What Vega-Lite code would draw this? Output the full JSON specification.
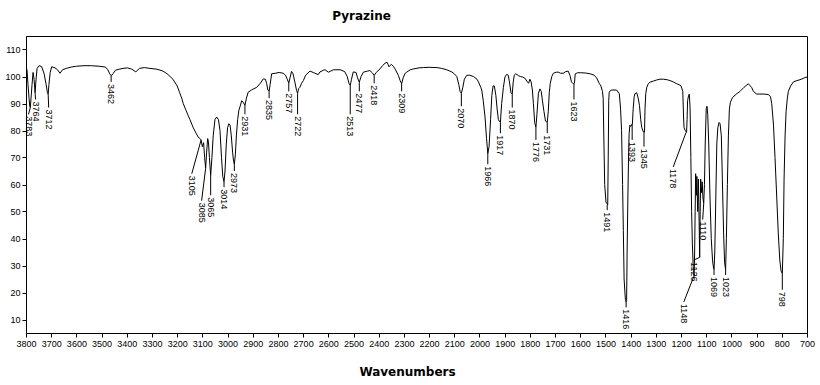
{
  "$schema": "https://vega.github.io/schema/vega-lite/v6.json",
  "width": 781,
  "height": 297,
  "autosize": {"type": "none"},
  "padding": {"left": 26, "top": 36, "right": 13, "bottom": 52},
  "background": "white",
  "config": {
    "view": {"stroke": "black", "strokeWidth": 1},
    "font": "Liberation Sans"
  },
  "title": {
    "text": "Pyrazine",
    "font": "DejaVu Sans",
    "fontSize": 12,
    "fontWeight": "bold",
    "color": "black",
    "anchor": "middle",
    "baseline": "alphabetic",
    "offset": 4,
    "dx": -55
  },
  "datasets": {
    "spectrum": [
      {"wn": 3800, "t": 103}, {"wn": 3796, "t": 102.5}, {"wn": 3792, "t": 97}, {"wn": 3788, "t": 92}, {"wn": 3785, "t": 89},
      {"wn": 3783, "t": 88.5}, {"wn": 3780, "t": 92}, {"wn": 3776, "t": 97}, {"wn": 3772, "t": 101.5}, {"wn": 3768, "t": 99},
      {"wn": 3764, "t": 94}, {"wn": 3760, "t": 99}, {"wn": 3756, "t": 103}, {"wn": 3748, "t": 104}, {"wn": 3738, "t": 103.7},
      {"wn": 3728, "t": 101}, {"wn": 3720, "t": 97}, {"wn": 3715, "t": 94}, {"wn": 3712, "t": 93.5}, {"wn": 3709, "t": 97},
      {"wn": 3704, "t": 101.5}, {"wn": 3698, "t": 103.6}, {"wn": 3685, "t": 103.2}, {"wn": 3675, "t": 102.5}, {"wn": 3665, "t": 101.2},
      {"wn": 3655, "t": 102.5}, {"wn": 3640, "t": 103}, {"wn": 3620, "t": 103.5}, {"wn": 3600, "t": 103.8}, {"wn": 3570, "t": 104},
      {"wn": 3540, "t": 104}, {"wn": 3510, "t": 103.8}, {"wn": 3485, "t": 103.5}, {"wn": 3475, "t": 102.5}, {"wn": 3468, "t": 101},
      {"wn": 3462, "t": 100.3}, {"wn": 3455, "t": 101}, {"wn": 3445, "t": 102.3}, {"wn": 3430, "t": 102.7}, {"wn": 3415, "t": 103},
      {"wn": 3397, "t": 103.2}, {"wn": 3380, "t": 102.7}, {"wn": 3364, "t": 101.7}, {"wn": 3350, "t": 103}, {"wn": 3330, "t": 103.3},
      {"wn": 3308, "t": 103}, {"wn": 3280, "t": 102.7}, {"wn": 3256, "t": 102}, {"wn": 3240, "t": 101}, {"wn": 3228, "t": 100},
      {"wn": 3217, "t": 99}, {"wn": 3200, "t": 96.5}, {"wn": 3190, "t": 94}, {"wn": 3182, "t": 92}, {"wn": 3176, "t": 90},
      {"wn": 3165, "t": 87.5}, {"wn": 3156, "t": 85.5}, {"wn": 3149, "t": 84}, {"wn": 3136, "t": 81}, {"wn": 3125, "t": 79},
      {"wn": 3116, "t": 77.5}, {"wn": 3109, "t": 77}, {"wn": 3105, "t": 76.5}, {"wn": 3100, "t": 74}, {"wn": 3095, "t": 75.5},
      {"wn": 3091, "t": 70}, {"wn": 3087, "t": 66}, {"wn": 3083, "t": 72}, {"wn": 3079, "t": 77}, {"wn": 3076, "t": 76},
      {"wn": 3072, "t": 70}, {"wn": 3067, "t": 63.3}, {"wn": 3062, "t": 70}, {"wn": 3057, "t": 78}, {"wn": 3050, "t": 84},
      {"wn": 3043, "t": 85}, {"wn": 3036, "t": 84}, {"wn": 3030, "t": 80}, {"wn": 3024, "t": 70}, {"wn": 3019, "t": 63},
      {"wn": 3014, "t": 61}, {"wn": 3010, "t": 65}, {"wn": 3005, "t": 75}, {"wn": 3000, "t": 81}, {"wn": 2995, "t": 82.5},
      {"wn": 2990, "t": 82}, {"wn": 2985, "t": 78}, {"wn": 2980, "t": 72}, {"wn": 2976, "t": 68.5}, {"wn": 2973, "t": 67.5},
      {"wn": 2969, "t": 71}, {"wn": 2965, "t": 78}, {"wn": 2960, "t": 84}, {"wn": 2955, "t": 87.5}, {"wn": 2950, "t": 89},
      {"wn": 2944, "t": 91}, {"wn": 2938, "t": 90.5}, {"wn": 2931, "t": 89.3}, {"wn": 2925, "t": 92}, {"wn": 2918, "t": 94.2},
      {"wn": 2905, "t": 95}, {"wn": 2895, "t": 95.5}, {"wn": 2884, "t": 96}, {"wn": 2870, "t": 97.5}, {"wn": 2858, "t": 99.1},
      {"wn": 2850, "t": 99}, {"wn": 2845, "t": 97.5}, {"wn": 2840, "t": 95}, {"wn": 2835, "t": 94.5}, {"wn": 2831, "t": 97},
      {"wn": 2825, "t": 101}, {"wn": 2810, "t": 101.2}, {"wn": 2795, "t": 101.5}, {"wn": 2779, "t": 101.2}, {"wn": 2770, "t": 100.5},
      {"wn": 2763, "t": 99}, {"wn": 2757, "t": 97.5}, {"wn": 2752, "t": 99.5}, {"wn": 2746, "t": 101.9}, {"wn": 2740, "t": 101},
      {"wn": 2733, "t": 98}, {"wn": 2726, "t": 94.8}, {"wn": 2722, "t": 93.8}, {"wn": 2718, "t": 95.5}, {"wn": 2713, "t": 96},
      {"wn": 2706, "t": 97.5}, {"wn": 2699, "t": 98.5}, {"wn": 2690, "t": 100.5}, {"wn": 2673, "t": 102}, {"wn": 2660, "t": 101.5},
      {"wn": 2653, "t": 101.2}, {"wn": 2640, "t": 100.7}, {"wn": 2633, "t": 101.7}, {"wn": 2620, "t": 102.3}, {"wn": 2613, "t": 102.5},
      {"wn": 2600, "t": 101.6}, {"wn": 2590, "t": 102}, {"wn": 2580, "t": 102.5}, {"wn": 2553, "t": 102.5}, {"wn": 2535, "t": 101.8},
      {"wn": 2525, "t": 100}, {"wn": 2518, "t": 97.5}, {"wn": 2513, "t": 96.7}, {"wn": 2508, "t": 99}, {"wn": 2501, "t": 101.7},
      {"wn": 2490, "t": 101.5}, {"wn": 2484, "t": 99.5}, {"wn": 2477, "t": 97.9}, {"wn": 2470, "t": 100}, {"wn": 2461, "t": 101.6},
      {"wn": 2445, "t": 102}, {"wn": 2435, "t": 102.2}, {"wn": 2425, "t": 101.3}, {"wn": 2418, "t": 100.4}, {"wn": 2410, "t": 101.5},
      {"wn": 2395, "t": 102.8}, {"wn": 2385, "t": 104}, {"wn": 2375, "t": 104.9}, {"wn": 2367, "t": 105.3}, {"wn": 2363, "t": 104.5},
      {"wn": 2359, "t": 103.6}, {"wn": 2350, "t": 104.5}, {"wn": 2342, "t": 103.8}, {"wn": 2335, "t": 102.8}, {"wn": 2322, "t": 100.4},
      {"wn": 2315, "t": 98.5}, {"wn": 2309, "t": 97.3}, {"wn": 2303, "t": 99.5}, {"wn": 2295, "t": 101.2}, {"wn": 2289, "t": 101.6},
      {"wn": 2275, "t": 102.5}, {"wn": 2262, "t": 102.8}, {"wn": 2240, "t": 103.2}, {"wn": 2222, "t": 103.3}, {"wn": 2200, "t": 103.4},
      {"wn": 2169, "t": 103.3}, {"wn": 2150, "t": 103}, {"wn": 2130, "t": 102.5}, {"wn": 2110, "t": 101.7}, {"wn": 2100, "t": 101},
      {"wn": 2090, "t": 100}, {"wn": 2082, "t": 97}, {"wn": 2077, "t": 94.5}, {"wn": 2072, "t": 93.8}, {"wn": 2066, "t": 96},
      {"wn": 2060, "t": 99}, {"wn": 2051, "t": 100.4}, {"wn": 2040, "t": 100.5}, {"wn": 2024, "t": 100}, {"wn": 2010, "t": 99},
      {"wn": 2004, "t": 98}, {"wn": 1995, "t": 96}, {"wn": 1991, "t": 95}, {"wn": 1985, "t": 91}, {"wn": 1978, "t": 85},
      {"wn": 1972, "t": 77}, {"wn": 1967, "t": 71.4}, {"wn": 1962, "t": 74}, {"wn": 1956, "t": 84}, {"wn": 1951, "t": 93},
      {"wn": 1946, "t": 96.5}, {"wn": 1941, "t": 96.5}, {"wn": 1935, "t": 93}, {"wn": 1930, "t": 88}, {"wn": 1925, "t": 84},
      {"wn": 1917, "t": 83}, {"wn": 1912, "t": 90}, {"wn": 1905, "t": 96}, {"wn": 1899, "t": 99.8}, {"wn": 1892, "t": 100.8},
      {"wn": 1886, "t": 100.5}, {"wn": 1881, "t": 98}, {"wn": 1875, "t": 94}, {"wn": 1870, "t": 93.5}, {"wn": 1866, "t": 98},
      {"wn": 1862, "t": 100.5}, {"wn": 1856, "t": 101}, {"wn": 1845, "t": 100.3}, {"wn": 1838, "t": 100}, {"wn": 1828, "t": 99.8},
      {"wn": 1818, "t": 99.2}, {"wn": 1810, "t": 98}, {"wn": 1805, "t": 97.5}, {"wn": 1800, "t": 99}, {"wn": 1795, "t": 98},
      {"wn": 1790, "t": 95}, {"wn": 1786, "t": 90}, {"wn": 1781, "t": 83}, {"wn": 1776, "t": 81.2}, {"wn": 1772, "t": 86},
      {"wn": 1766, "t": 93.8}, {"wn": 1760, "t": 95.4}, {"wn": 1755, "t": 94.5}, {"wn": 1750, "t": 91}, {"wn": 1744, "t": 87},
      {"wn": 1738, "t": 83.5}, {"wn": 1731, "t": 83}, {"wn": 1727, "t": 87}, {"wn": 1723, "t": 94}, {"wn": 1719, "t": 97.5},
      {"wn": 1713, "t": 100}, {"wn": 1707, "t": 101.2}, {"wn": 1695, "t": 101.6}, {"wn": 1687, "t": 101.6}, {"wn": 1678, "t": 101.2},
      {"wn": 1668, "t": 101.2}, {"wn": 1658, "t": 101.8}, {"wn": 1648, "t": 102}, {"wn": 1641, "t": 100.5}, {"wn": 1635, "t": 98},
      {"wn": 1628, "t": 97.3}, {"wn": 1623, "t": 97.5}, {"wn": 1620, "t": 101}, {"wn": 1610, "t": 101.4}, {"wn": 1600, "t": 101.4},
      {"wn": 1580, "t": 101.3}, {"wn": 1561, "t": 101}, {"wn": 1545, "t": 100.5}, {"wn": 1535, "t": 99.5}, {"wn": 1525, "t": 97.5},
      {"wn": 1518, "t": 96.5}, {"wn": 1512, "t": 94.5}, {"wn": 1509, "t": 92}, {"wn": 1506, "t": 75}, {"wn": 1503, "t": 60},
      {"wn": 1498, "t": 53.5}, {"wn": 1491, "t": 52.5}, {"wn": 1489, "t": 70}, {"wn": 1487, "t": 91}, {"wn": 1485, "t": 94.2},
      {"wn": 1477, "t": 95}, {"wn": 1456, "t": 95}, {"wn": 1445, "t": 93.6}, {"wn": 1440, "t": 88}, {"wn": 1436, "t": 80},
      {"wn": 1432, "t": 60}, {"wn": 1429, "t": 43}, {"wn": 1426, "t": 25}, {"wn": 1421, "t": 17.5}, {"wn": 1418, "t": 16.5},
      {"wn": 1416, "t": 17}, {"wn": 1414, "t": 35}, {"wn": 1411, "t": 55}, {"wn": 1408, "t": 72}, {"wn": 1406, "t": 78.8},
      {"wn": 1403, "t": 82}, {"wn": 1400, "t": 81.5}, {"wn": 1396, "t": 82}, {"wn": 1393, "t": 82.5}, {"wn": 1390, "t": 88},
      {"wn": 1386, "t": 92.5}, {"wn": 1383, "t": 93.6}, {"wn": 1376, "t": 94}, {"wn": 1370, "t": 92}, {"wn": 1365, "t": 89.3},
      {"wn": 1360, "t": 84}, {"wn": 1356, "t": 81.2}, {"wn": 1350, "t": 79.5}, {"wn": 1345, "t": 79.4}, {"wn": 1343, "t": 88},
      {"wn": 1340, "t": 93.6}, {"wn": 1336, "t": 96}, {"wn": 1330, "t": 97.3}, {"wn": 1323, "t": 97.9}, {"wn": 1310, "t": 98.3},
      {"wn": 1297, "t": 98.7}, {"wn": 1284, "t": 99}, {"wn": 1270, "t": 99}, {"wn": 1255, "t": 98.8}, {"wn": 1244, "t": 98.5},
      {"wn": 1231, "t": 98}, {"wn": 1217, "t": 97.3}, {"wn": 1208, "t": 97}, {"wn": 1200, "t": 96.5}, {"wn": 1193, "t": 94.5},
      {"wn": 1190, "t": 85}, {"wn": 1188, "t": 81}, {"wn": 1183, "t": 80}, {"wn": 1178, "t": 79.3}, {"wn": 1176, "t": 84},
      {"wn": 1174, "t": 91}, {"wn": 1170, "t": 93}, {"wn": 1167, "t": 93.5}, {"wn": 1164, "t": 88}, {"wn": 1161, "t": 70},
      {"wn": 1158, "t": 50}, {"wn": 1155, "t": 38}, {"wn": 1151, "t": 28}, {"wn": 1148, "t": 26}, {"wn": 1146, "t": 35},
      {"wn": 1144, "t": 50}, {"wn": 1142, "t": 64}, {"wn": 1139, "t": 56}, {"wn": 1137, "t": 63}, {"wn": 1134, "t": 50},
      {"wn": 1131, "t": 62}, {"wn": 1128, "t": 45}, {"wn": 1126, "t": 33}, {"wn": 1124, "t": 50}, {"wn": 1122, "t": 62},
      {"wn": 1119, "t": 57}, {"wn": 1116, "t": 61}, {"wn": 1113, "t": 55}, {"wn": 1110, "t": 53}, {"wn": 1107, "t": 60},
      {"wn": 1104, "t": 75}, {"wn": 1100, "t": 88}, {"wn": 1097, "t": 89}, {"wn": 1094, "t": 86}, {"wn": 1090, "t": 75},
      {"wn": 1085, "t": 55}, {"wn": 1080, "t": 40}, {"wn": 1075, "t": 32}, {"wn": 1071, "t": 29}, {"wn": 1069, "t": 28.5},
      {"wn": 1066, "t": 35}, {"wn": 1062, "t": 55}, {"wn": 1058, "t": 75}, {"wn": 1054, "t": 81}, {"wn": 1049, "t": 83},
      {"wn": 1045, "t": 82.5}, {"wn": 1040, "t": 78}, {"wn": 1036, "t": 62}, {"wn": 1031, "t": 42}, {"wn": 1027, "t": 31},
      {"wn": 1023, "t": 28.5}, {"wn": 1020, "t": 40}, {"wn": 1016, "t": 60}, {"wn": 1012, "t": 78}, {"wn": 1008, "t": 88},
      {"wn": 1004, "t": 90.5}, {"wn": 995, "t": 92.3}, {"wn": 980, "t": 93.5}, {"wn": 966, "t": 94.5}, {"wn": 950, "t": 96},
      {"wn": 933, "t": 97.3}, {"wn": 920, "t": 96}, {"wn": 913, "t": 94.5}, {"wn": 900, "t": 93.5}, {"wn": 887, "t": 93.5},
      {"wn": 870, "t": 93.5}, {"wn": 853, "t": 93.3}, {"wn": 845, "t": 92.5}, {"wn": 840, "t": 90}, {"wn": 833, "t": 82},
      {"wn": 827, "t": 70}, {"wn": 820, "t": 55}, {"wn": 814, "t": 42}, {"wn": 808, "t": 32}, {"wn": 803, "t": 28},
      {"wn": 798, "t": 27}, {"wn": 794, "t": 40}, {"wn": 791, "t": 62}, {"wn": 787, "t": 78}, {"wn": 783, "t": 87},
      {"wn": 778, "t": 92}, {"wn": 774, "t": 94.5}, {"wn": 765, "t": 96.5}, {"wn": 754, "t": 98}, {"wn": 740, "t": 98.5},
      {"wn": 728, "t": 98.8}, {"wn": 715, "t": 99.3}, {"wn": 708, "t": 99.6}, {"wn": 700, "t": 99.8}
    ],
    "peaks": [
      {"label": "3783", "wn": 3783, "pv": 88.5, "lx": 3790, "ly": 86},
      {"label": "3764", "wn": 3764, "pv": 94, "lx": 3762, "ly": 91.5},
      {"label": "3712", "wn": 3712, "pv": 93.5, "lx": 3710, "ly": 88.5},
      {"label": "3462", "wn": 3462, "pv": 100.3, "lx": 3462, "ly": 98},
      {"label": "3105", "wn": 3105, "pv": 76.5, "lx": 3142, "ly": 64},
      {"label": "3085", "wn": 3087, "pv": 66, "lx": 3103, "ly": 54},
      {"label": "3065", "wn": 3067, "pv": 63.3, "lx": 3067, "ly": 56},
      {"label": "3014", "wn": 3014, "pv": 61, "lx": 3014, "ly": 59},
      {"label": "2973", "wn": 2973, "pv": 67.5, "lx": 2973, "ly": 65},
      {"label": "2931", "wn": 2931, "pv": 89.3, "lx": 2931, "ly": 86},
      {"label": "2835", "wn": 2835, "pv": 94.5, "lx": 2835, "ly": 92},
      {"label": "2757", "wn": 2757, "pv": 97.5, "lx": 2757, "ly": 94.5},
      {"label": "2722", "wn": 2722, "pv": 93.8, "lx": 2722, "ly": 86},
      {"label": "2513", "wn": 2513, "pv": 96.7, "lx": 2513, "ly": 86},
      {"label": "2477", "wn": 2477, "pv": 97.9, "lx": 2477, "ly": 94.5},
      {"label": "2418", "wn": 2418, "pv": 100.4, "lx": 2418, "ly": 97.5},
      {"label": "2309", "wn": 2309, "pv": 97.3, "lx": 2309, "ly": 94.5},
      {"label": "2070", "wn": 2072, "pv": 93.8, "lx": 2072, "ly": 89},
      {"label": "1966", "wn": 1967, "pv": 71.4, "lx": 1967, "ly": 67.5},
      {"label": "1917", "wn": 1917, "pv": 83, "lx": 1917, "ly": 79},
      {"label": "1870", "wn": 1870, "pv": 93.5, "lx": 1870, "ly": 88.5},
      {"label": "1776", "wn": 1776, "pv": 81.2, "lx": 1776, "ly": 76.5},
      {"label": "1731", "wn": 1731, "pv": 83, "lx": 1731, "ly": 79},
      {"label": "1623", "wn": 1625, "pv": 97.3, "lx": 1625, "ly": 91.5},
      {"label": "1491", "wn": 1493, "pv": 52.5, "lx": 1493, "ly": 50.5},
      {"label": "1416", "wn": 1418, "pv": 16.5, "lx": 1418, "ly": 14.5},
      {"label": "1393", "wn": 1394, "pv": 82.5, "lx": 1394, "ly": 76.5},
      {"label": "1345", "wn": 1347, "pv": 79.4, "lx": 1347, "ly": 74},
      {"label": "1178", "wn": 1180, "pv": 79.3, "lx": 1231, "ly": 66.5},
      {"label": "1148", "wn": 1149, "pv": 26, "lx": 1189, "ly": 16.5},
      {"label": "1126", "wn": 1126, "pv": 33, "lx": 1150, "ly": 32},
      {"label": "1110", "wn": 1110, "pv": 53, "lx": 1114, "ly": 47},
      {"label": "1069", "wn": 1069, "pv": 28.5, "lx": 1069, "ly": 26.5},
      {"label": "1023", "wn": 1023, "pv": 28.5, "lx": 1023, "ly": 26.5},
      {"label": "798", "wn": 798, "pv": 27, "lx": 798, "ly": 21}
    ]
  },
  "layer": [
    {
      "data": {"name": "spectrum"},
      "mark": {"type": "line", "color": "black", "strokeWidth": 1, "clip": true},
      "encoding": {
        "x": {
          "field": "wn", "type": "quantitative",
          "scale": {"domain": [700, 3800], "reverse": true, "nice": false, "zero": false},
          "axis": {
            "title": "Wavenumbers",
            "values": [3800, 3700, 3600, 3500, 3400, 3300, 3200, 3100, 3000, 2900, 2800, 2700, 2600, 2500, 2400, 2300, 2200, 2100, 2000, 1900, 1800, 1700, 1600, 1500, 1400, 1300, 1200, 1100, 1000, 900, 800, 700],
            "format": "d",
            "grid": false,
            "domainColor": "black",
            "tickColor": "black",
            "tickSize": 4,
            "labelFont": "Liberation Sans",
            "labelFontSize": 9,
            "labelColor": "black",
            "labelPadding": 2,
            "labelFlush": false,
            "labelOverlap": false,
            "titleFont": "DejaVu Sans",
            "titleFontSize": 12,
            "titleFontWeight": "bold",
            "titleColor": "black",
            "titleX": 381,
            "titleY": 42,
            "titleAlign": "center",
            "titleBaseline": "alphabetic"
          }
        },
        "y": {
          "field": "t", "type": "quantitative",
          "scale": {"domain": [5, 115], "nice": false, "zero": false},
          "axis": {
            "title": null,
            "values": [10, 20, 30, 40, 50, 60, 70, 80, 90, 100, 110],
            "format": "d",
            "grid": false,
            "domainColor": "black",
            "tickColor": "black",
            "tickSize": 4,
            "labelFont": "Liberation Sans",
            "labelFontSize": 9,
            "labelColor": "black",
            "labelPadding": 2,
            "labelFlush": false,
            "labelOverlap": false
          }
        }
      }
    },
    {
      "data": {"name": "peaks"},
      "mark": {"type": "rule", "color": "black", "strokeWidth": 1},
      "encoding": {
        "x": {
          "field": "wn", "type": "quantitative",
          "axis": {
            "title": "Wavenumbers",
            "values": [3800, 3700, 3600, 3500, 3400, 3300, 3200, 3100, 3000, 2900, 2800, 2700, 2600, 2500, 2400, 2300, 2200, 2100, 2000, 1900, 1800, 1700, 1600, 1500, 1400, 1300, 1200, 1100, 1000, 900, 800, 700],
            "format": "d",
            "grid": false,
            "domainColor": "black",
            "tickColor": "black",
            "tickSize": 4,
            "labelFont": "Liberation Sans",
            "labelFontSize": 9,
            "labelColor": "black",
            "labelPadding": 2,
            "labelFlush": false,
            "labelOverlap": false,
            "titleFont": "DejaVu Sans",
            "titleFontSize": 12,
            "titleFontWeight": "bold",
            "titleColor": "black",
            "titleX": 381,
            "titleY": 42,
            "titleAlign": "center",
            "titleBaseline": "alphabetic"
          }
        },
        "y": {
          "field": "pv", "type": "quantitative",
          "axis": {
            "title": null,
            "values": [10, 20, 30, 40, 50, 60, 70, 80, 90, 100, 110],
            "format": "d",
            "grid": false,
            "domainColor": "black",
            "tickColor": "black",
            "tickSize": 4,
            "labelFont": "Liberation Sans",
            "labelFontSize": 9,
            "labelColor": "black",
            "labelPadding": 2,
            "labelFlush": false,
            "labelOverlap": false
          }
        },
        "x2": {"field": "lx"},
        "y2": {"field": "ly"}
      }
    },
    {
      "data": {"name": "peaks"},
      "mark": {"type": "text", "angle": 90, "align": "left", "baseline": "middle", "dx": 2, "font": "Liberation Sans", "fontSize": 9, "color": "black"},
      "encoding": {
        "x": {
          "field": "lx", "type": "quantitative",
          "axis": {
            "title": "Wavenumbers",
            "values": [3800, 3700, 3600, 3500, 3400, 3300, 3200, 3100, 3000, 2900, 2800, 2700, 2600, 2500, 2400, 2300, 2200, 2100, 2000, 1900, 1800, 1700, 1600, 1500, 1400, 1300, 1200, 1100, 1000, 900, 800, 700],
            "format": "d",
            "grid": false,
            "domainColor": "black",
            "tickColor": "black",
            "tickSize": 4,
            "labelFont": "Liberation Sans",
            "labelFontSize": 9,
            "labelColor": "black",
            "labelPadding": 2,
            "labelFlush": false,
            "labelOverlap": false,
            "titleFont": "DejaVu Sans",
            "titleFontSize": 12,
            "titleFontWeight": "bold",
            "titleColor": "black",
            "titleX": 381,
            "titleY": 42,
            "titleAlign": "center",
            "titleBaseline": "alphabetic"
          }
        },
        "y": {
          "field": "ly", "type": "quantitative",
          "axis": {
            "title": null,
            "values": [10, 20, 30, 40, 50, 60, 70, 80, 90, 100, 110],
            "format": "d",
            "grid": false,
            "domainColor": "black",
            "tickColor": "black",
            "tickSize": 4,
            "labelFont": "Liberation Sans",
            "labelFontSize": 9,
            "labelColor": "black",
            "labelPadding": 2,
            "labelFlush": false,
            "labelOverlap": false
          }
        },
        "text": {"field": "label"}
      }
    }
  ]
}
